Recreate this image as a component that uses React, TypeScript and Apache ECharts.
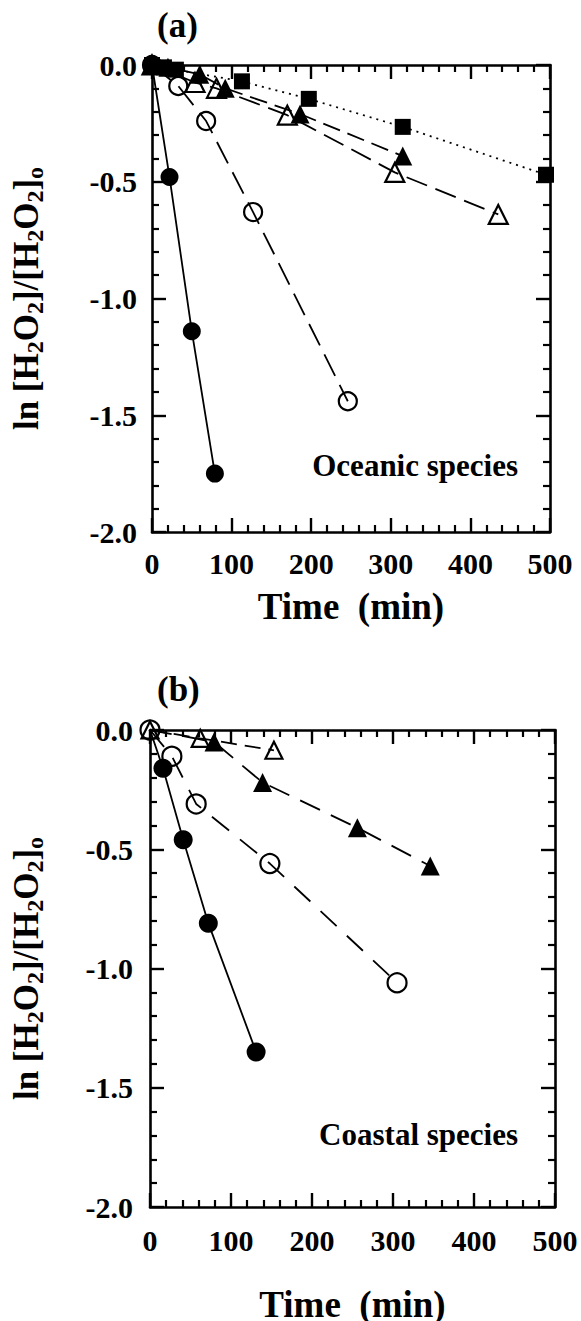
import React, { useEffect, useRef } from "react";
import * as echarts from "echarts";

const FONT = "'Liberation Serif', 'Times New Roman', serif";

// Axis ranges / ticks
const xMin = 0;
const xMax = 500;
const xInterval = 100;
const yMin = -2;
const yMax = 0;
const yInterval = 0.5;

// Panel (a) — oceanic species: [time (min), ln ratio]
const aFilledCircle = [[0, 0], [22, -0.48], [50, -1.14], [79, -1.75]];
const aOpenCircle = [[0, 0], [33, -0.09], [68, -0.24], [127, -0.63], [246, -1.44]];
const aOpenTriangle = [[0, 0], [54, -0.075], [81, -0.1], [170, -0.215], [305, -0.46], [435, -0.64]];
const aFilledTriangle = [[0, 0], [20, -0.01], [60, -0.04], [92, -0.1], [186, -0.21], [315, -0.39]];
const aFilledSquare = [[0, 0], [15, -0.01], [30, -0.02], [113, -0.07], [197, -0.145], [315, -0.265], [495, -0.47]];

// Panel (b) — coastal species
const bFilledCircle = [[0, 0], [16, -0.16], [41, -0.46], [72, -0.81], [131, -1.35]];
const bOpenCircle = [[0, 0], [27, -0.11], [57, -0.31], [148, -0.56], [305, -1.06]];
const bFilledTriangle = [[0, 0], [79, -0.05], [139, -0.22], [256, -0.41], [346, -0.57]];
const bOpenTriangle = [[0, 0], [62, -0.035], [153, -0.085]];

const yTitle = "{m|ln [H}{s|2}{m|O}{s|2}{m|]/[H}{s|2}{m|O}{s|2}{m|]}{s|o}";
const xTitle = "Time  (min)";

const filled = (symbol: string, size: number) => ({
  symbol,
  symbolSize: size,
  itemStyle: { color: "#000", borderColor: "#000", borderWidth: 0 },
});
const hollow = (symbol: string, size: number) => ({
  symbol,
  symbolSize: size,
  itemStyle: { color: "rgba(255,255,255,0)", borderColor: "#000", borderWidth: 2.2 },
});

const mk = (name: string, data: any[], marker: any, dash: any, hideFirst = false) => ({
  name,
  type: "line",
  data: data.map((p, i) => (hideFirst && i === 0 ? { value: p, symbol: "none" } : p)),
  clip: false,
  ...marker,
  lineStyle: { color: "#000", width: 1.8, type: dash },
});

type PanelCfg = {
  height: number;
  grid: { left: number; top: number; width: number; height: number };
  tag: string;
  tagX: number;
  tagY: number;
  note: string;
  noteRight: number;
  noteY: number;
  xLabelMargin: number;
  yLabelMargin: number;
  xNameGap: number;
  yNameGap: number;
  series: any[];
};

const labelFont = { fontFamily: FONT, fontWeight: "bold", fontSize: 30, color: "#000" };

// Frame: axis lines, inside ticks on all four sides, x tick labels
function frameOption(c: PanelCfg) {
  const base = (pos: string) => ({
    type: "value",
    position: pos,
    axisLine: { show: true, onZero: false, lineStyle: { color: "#000", width: 2.6 } },
    axisTick: { show: true, inside: true, length: 14, lineStyle: { color: "#000", width: 2.4 } },
    minorTick: { show: true, splitNumber: 5, length: 7, lineStyle: { color: "#000", width: 2.2 } },
    splitLine: { show: false },
  });
  return {
    animation: false,
    grid: [{ ...c.grid, outerBoundsMode: "none" }],
    xAxis: [
      { ...base("bottom"), min: xMin, max: xMax, interval: xInterval, axisLabel: { ...labelFont, margin: c.xLabelMargin } },
      { ...base("top"), min: xMin, max: xMax, interval: xInterval, axisLabel: { show: false } },
    ],
    yAxis: [
      { ...base("left"), min: yMin, max: yMax, interval: yInterval, axisLabel: { show: false } },
      { ...base("right"), min: yMin, max: yMax, interval: yInterval, axisLabel: { show: false } },
    ],
    series: [{ type: "line", data: [] }],
  };
}

// Content: data series, y tick labels, axis names and annotations on the same scales
function contentOption(c: PanelCfg) {
  const hidden = {
    axisLine: { show: false },
    axisTick: { show: false },
    splitLine: { show: false },
  };
  const rich = {
    m: { fontFamily: FONT, fontWeight: "bold", fontSize: 35, lineHeight: 42, verticalAlign: "middle", color: "#000" },
    s: { fontFamily: FONT, fontWeight: "bold", fontSize: 24, lineHeight: 6, verticalAlign: "bottom", color: "#000" },
  };
  return {
    animation: false,
    title: [
      {
        text: c.tag,
        left: c.tagX - 20,
        top: c.tagY - 19,
        padding: 0,
        textStyle: { fontFamily: FONT, fontWeight: "bold", fontSize: 35, lineHeight: 38, color: "#000" },
      },
      {
        text: c.note,
        right: c.noteRight,
        top: c.noteY - 17,
        padding: 0,
        textStyle: { fontFamily: FONT, fontWeight: "bold", fontSize: 31, lineHeight: 34, color: "#000" },
      },
    ],
    grid: [{ ...c.grid, outerBoundsMode: "none" }],
    xAxis: [
      {
        type: "value",
        min: xMin,
        max: xMax,
        interval: xInterval,
        ...hidden,
        axisLabel: { show: false },
        name: xTitle,
        nameLocation: "middle",
        nameGap: c.xNameGap,
        nameTextStyle: { fontFamily: FONT, fontWeight: "bold", fontSize: 37, color: "#000" },
      },
    ],
    yAxis: [
      {
        type: "value",
        min: yMin,
        max: yMax,
        interval: yInterval,
        ...hidden,
        axisLabel: {
          ...labelFont,
          margin: c.yLabelMargin,
          formatter: (v: any) => Number(typeof v === "object" && v ? v.value : v).toFixed(1),
        },
        name: yTitle,
        nameLocation: "middle",
        nameRotate: 90,
        nameGap: c.yNameGap,
        nameTextStyle: { rich, color: "#000" },
      },
    ],
    series: c.series,
  };
}

function Chart({ option, height }: { option: any; height: number }) {
  const ref = useRef<HTMLDivElement>(null);
  useEffect(() => {
    if (!ref.current) return;
    const chart = echarts.init(ref.current, undefined, { renderer: "svg" });
    chart.setOption(option);
    return () => chart.dispose();
  }, []);
  return <div ref={ref} style={{ position: "absolute", left: 0, top: 0, width: 581, height }} />;
}

function Panel({ cfg, top }: { cfg: PanelCfg; top: number }) {
  return (
    <div style={{ position: "absolute", left: 0, top, width: 581, height: cfg.height }}>
      <Chart option={frameOption(cfg)} height={cfg.height} />
      <Chart option={contentOption(cfg)} height={cfg.height} />
    </div>
  );
}

const panelA: PanelCfg = {
  height: 650,
  grid: { left: 152, top: 65, width: 398, height: 467 },
  tag: "(a)",
  tagX: 177,
  tagY: 25,
  note: "Oceanic species",
  noteRight: 63,
  noteY: 465,
  xLabelMargin: 16,
  yLabelMargin: 15,
  xNameGap: 56,
  yNameGap: 105,
  series: [
    mk("a-filled-square", aFilledSquare, filled("rect", 16), [2, 5]),
    mk("a-filled-triangle", aFilledTriangle, filled("triangle", 19), [18, 8]),
    mk("a-open-triangle", aOpenTriangle, hollow("triangle", 19), [22, 9]),
    mk("a-open-circle", aOpenCircle, hollow("circle", 18), [24, 10]),
    mk("a-filled-circle", aFilledCircle, filled("circle", 18), "solid"),
  ],
};

const panelB: PanelCfg = {
  height: 671,
  grid: { left: 150, top: 80, width: 405, height: 477 },
  tag: "(b)",
  tagX: 177,
  tagY: 39,
  note: "Coastal species",
  noteRight: 63,
  noteY: 484,
  xLabelMargin: 18,
  yLabelMargin: 17,
  xNameGap: 79,
  yNameGap: 103,
  series: [
    mk("b-filled-circle", bFilledCircle, filled("circle", 19), "solid", true),
    mk("b-filled-triangle", bFilledTriangle, filled("triangle", 19), [22, 12], true),
    mk("b-open-circle", bOpenCircle, hollow("circle", 19), [22, 14]),
    mk("b-open-triangle", bOpenTriangle, hollow("triangle", 17), [16, 8]),
  ],
};

export default function App() {
  useEffect(() => {
    document.body.style.margin = "0";
  }, []);
  return (
    <div style={{ position: "relative", width: 581, height: 1321, background: "#fff" }}>
      <Panel cfg={panelA} top={0} />
      <Panel cfg={panelB} top={650} />
    </div>
  );
}
